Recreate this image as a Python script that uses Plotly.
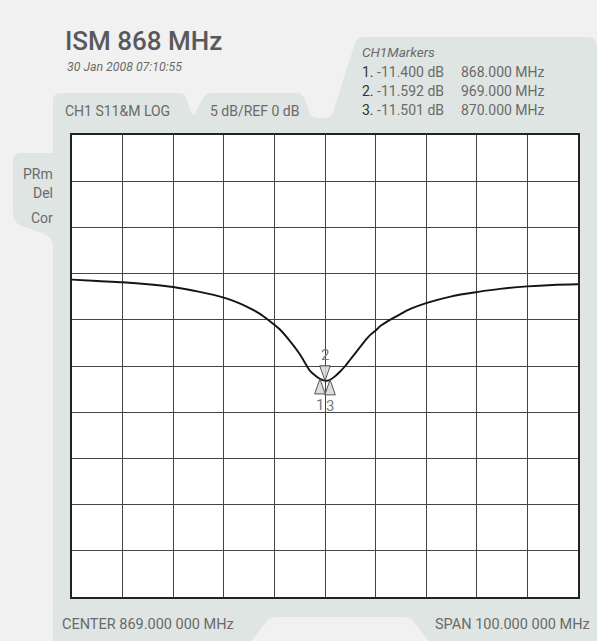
import re
import plotly.graph_objects as go

# ---------------- data ----------------
freq_mhz = [819, 824, 829, 834, 839, 844, 849, 852, 854, 856, 858, 860, 862, 864, 866, 867,
            868, 869, 870, 871, 872, 873, 874, 875, 876, 877, 878, 879, 880, 882, 884, 886,
            889, 894, 899, 904, 909, 914, 919]
s11_db = [-0.65, -0.8, -0.94, -1.15, -1.45, -1.95, -2.6, -3.2, -3.7, -4.3, -5.1, -6.0, -7.25,
          -8.7, -10.5, -11.0, -11.4, -11.6, -11.5, -11.1, -10.6, -10.0, -9.3, -8.6, -7.9, -7.2,
          -6.6, -6.16, -5.65, -4.96, -4.35, -3.8, -3.2, -2.46, -2.0, -1.63, -1.38, -1.23, -1.16]

marker_ids = ["1", "2", "3"]
marker_db = [-11.400, -11.592, -11.501]
marker_freq_text = ["868.000", "969.000", "870.000"]
marker_pos_mhz = [868, 869, 870]          # where the triangles are drawn
marker_pointing = ["up", "down", "up"]

center_mhz = 869.0
span_mhz = 100.0
scale_db_per_div = 5
ref_db = 0
ref_div_from_top = 3
n_div = 10

title_text = "ISM 868 MHz"
date_text = "30 Jan 2008 07:10:55"
trace_label = "CH1 S11&M LOG"
scale_label = "5 dB/REF 0 dB"
side_labels = ["PRm", "Del", "Cor"]
center_label = "CENTER 869.000 000 MHz"
span_label = "SPAN 100.000 000 MHz"

# ---------------- layout geometry ----------------
W, H = 597, 641
ML, MR, MT, MB = 72, 19, 135, 44
PW = W - ML - MR
PH = H - MT - MB

x_min = center_mhz - span_mhz / 2
x_max = center_mhz + span_mhz / 2
y_max = ref_db + ref_div_from_top * scale_db_per_div
y_min = y_max - n_div * scale_db_per_div
mhz_per_px = (x_max - x_min) / PW
db_per_px = (y_max - y_min) / PH


def px(x):
    return (x - ML) / PW


def py(y):
    return (H - MB - y) / PH


def path_to_paper(p):
    toks = re.findall(r"[A-Za-z]|-?\d+\.?\d*", p)
    out, nums = [], []
    for t in toks:
        if t.isalpha():
            out.append(t)
        else:
            nums.append(float(t))
            if len(nums) == 2:
                out.append(f"{px(nums[0]):.5f},{py(nums[1]):.5f}")
                nums = []
    return " ".join(out)


PANEL = "#dfe5e2"
BG = "#f1f1f1"
TXT = "#6a6a6a"
FONT = "Roboto"

panel_path = (
    "M 53 101 Q 53 93 61 93 L 180 93 Q 184 93 186 98 L 191 112 Q 193 117 196 112 "
    "L 203 98 Q 206 93 211 93 L 297 93 Q 302 93 305 99 L 309 112 Q 311 118 317 118 "
    "L 326 118 Q 331 118 333 112 L 355 43 Q 357 37 364 37 L 587 37 Q 597 37 597 47 "
    "L 597 645 L 432 645 L 413 621 Q 410 617 405 617 L 275 617 Q 270 617 267 621 "
    "L 248 645 L 53 645 L 53 248 Q 53 238 45 234 L 25 227 Q 13 224 13 213 L 13 161 "
    "Q 13 153 21 153 L 53 153 Z"
)

shapes = [
    dict(type="path", path=path_to_paper(panel_path), xref="paper", yref="paper",
         fillcolor=PANEL, line=dict(width=0), layer="below"),
    dict(type="rect", xref="paper", yref="paper", x0=0, x1=1, y0=0, y1=1,
         fillcolor="white", line=dict(width=0), layer="below"),
]

fig = go.Figure()

# measured trace
fig.add_trace(go.Scatter(
    x=freq_mhz, y=s11_db, mode="lines",
    line=dict(color="#141414", width=1.9, shape="spline", smoothing=0.8),
    hoverinfo="skip", showlegend=False,
))

# marker triangles (apex on the marker value)
tri_h = 15 * db_per_px
tri_hw = 5.3 * mhz_per_px
annotations = []
for mid, f, d, direc in zip(marker_ids, marker_pos_mhz, marker_db, marker_pointing):
    base = d - tri_h if direc == "up" else d + tri_h
    fig.add_trace(go.Scatter(
        x=[f, f - tri_hw, f + tri_hw, f], y=[d, base, base, d],
        mode="lines", fill="toself", fillcolor="rgba(215,215,215,0.85)",
        line=dict(color="#555555", width=1), hoverinfo="skip", showlegend=False,
    ))
    annotations.append(dict(
        x=f, y=base, xref="x", yref="y", text=mid, showarrow=False,
        yanchor="top" if direc == "up" else "bottom",
        font=dict(family=FONT, size=15, color="#7a7a7a"),
    ))

# reference level indicator
fig.add_trace(go.Scatter(
    x=[x_min - 4 * mhz_per_px], y=[ref_db], mode="markers", cliponaxis=False,
    marker=dict(symbol="triangle-right-open", size=6, color="#111", line=dict(width=1.3)),
    hoverinfo="skip", showlegend=False,
))


def txt(text, x, y, size=14, anchor="left", color=TXT, italic=False, weight=400):
    annotations.append(dict(
        text=text, x=px(x), y=py(y), xref="paper", yref="paper", showarrow=False,
        xanchor=anchor, yanchor="middle",
        font=dict(family=FONT, size=size, color=color, weight=weight,
                  style="italic" if italic else "normal"),
    ))


txt(title_text, 63, 41, size=26, color="#58595b", weight=500)
txt(date_text, 65, 67, size=12.3, italic=True)
txt(trace_label, 63, 111)
txt(scale_label, 208, 111)
txt("CH1Markers", 360, 52, size=13.5, italic=True)
for i, (mid, d, ft) in enumerate(zip(marker_ids, marker_db, marker_freq_text)):
    yy = 72 + i * 19
    txt(f"<span style='color:#333'>{mid}.</span> {d:.3f} dB", 360, yy)
    txt(f"{ft} MHz", 459, yy)
for lab, yy in zip(side_labels, [174, 193, 218]):
    txt(lab, 55, yy, anchor="right")
txt(center_label, 60, 624, size=14.5)
txt(span_label, 592, 624, size=14.5, anchor="right")

axis_common = dict(showgrid=True, gridcolor="#444444", gridwidth=1.4, zeroline=False,
                   showticklabels=False, ticks="", showline=True, linecolor="#222222",
                   linewidth=1.5, mirror=True, fixedrange=True)

fig.update_layout(
    width=W, height=H,
    margin=dict(l=ML, r=MR, t=MT, b=MB, pad=0),
    paper_bgcolor=BG, plot_bgcolor="white",
    xaxis=dict(range=[x_min, x_max], dtick=span_mhz / n_div, tick0=x_min, **axis_common),
    yaxis=dict(range=[y_min, y_max], dtick=scale_db_per_div, tick0=y_min, **axis_common),
    shapes=shapes, annotations=annotations, showlegend=False,
)

fig.write_html(
    "out.html",
    config={"displayModeBar": False},
    post_script="document.body.style.margin='0';document.body.style.overflow='hidden';",
)
